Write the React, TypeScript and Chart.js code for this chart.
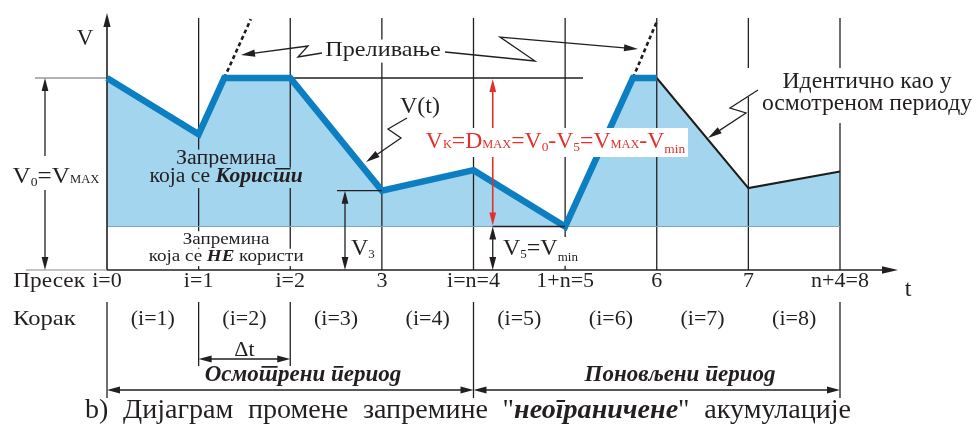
import React, { useEffect, useRef } from 'react';
import { Chart, registerables } from 'chart.js';

Chart.register(...registerables);

// ---------- data ----------
const sectionTicks = [0, 1, 2, 3, 4, 5, 6, 7, 8];
const sectionLabels = ['i=0', 'i=1', 'i=2', '3', 'i=n=4', '1+n=5', '6', '7', 'n+4=8'];
const stepLabels = ['(i=1)', '(i=2)', '(i=3)', '(i=4)', '(i=5)', '(i=6)', '(i=7)', '(i=8)'];
const observedTime = [0, 1, 1.28, 2, 3, 4, 5, 5.74, 6];
const observedVolume = [7.5, 5.3, 7.5, 7.5, 3.1, 3.9, 1.7, 7.5, 7.5];
const repeatedTime = [6, 7, 8];
const repeatedVolume = [7.5, 3.2, 3.85];
const overflowATime = [1.28, 1.57];
const overflowAVolume = [7.5, 9.8];
const overflowBTime = [5.74, 6.0];
const overflowBVolume = [7.5, 9.7];
const V_MAX = 7.5;
const V_MIN = 1.7;
const V_3 = 3.1;
const DMAX_AT = 4.21;

// ---------- styles ----------
const FAMILY = '"Liberation Serif", "Times New Roman", serif';
const INK = '#231f20';
const RED = '#e2312b';
const BLUE = '#0b7fc2';
const FILL = '#a4d5ee';
const FILL_INDEX = 4;

type Seg = { t: string; size: number; style?: string; dy?: number };
type Opt = { align?: 'left' | 'center' | 'right'; color?: string; bg?: string; padX?: number; padT?: number; padB?: number; k?: number };
const S = (t: string, size: number, style = '', dy = 0): Seg => ({ t, size, style, dy });
const fontOf = (s: Seg) => `${s.style || ''} ${s.size}px ${FAMILY}`;

function segsWidth(ctx: CanvasRenderingContext2D, segs: Seg[], k = 1) {
  let w = 0;
  for (const s of segs) {
    ctx.font = fontOf(s);
    w += ctx.measureText(s.t).width;
  }
  return w * k;
}

function drawSegs(ctx: CanvasRenderingContext2D, segs: Seg[], x: number, y: number, o: Opt = {}) {
  const { align = 'left', color = INK, bg, padX = 3, padT = 0.75, padB = 0.3, k = 1 } = o;
  const w = segsWidth(ctx, segs, k);
  const sx = align === 'center' ? x - w / 2 : align === 'right' ? x - w : x;
  const maxSize = Math.max(...segs.map((s) => s.size));
  ctx.save();
  if (bg) {
    ctx.fillStyle = bg;
    ctx.fillRect(sx - padX, y - maxSize * padT, w + padX * 2, maxSize * (padT + padB));
  }
  ctx.translate(sx, y);
  ctx.scale(k, 1);
  ctx.fillStyle = color;
  ctx.textAlign = 'left';
  ctx.textBaseline = 'alphabetic';
  let cx = 0;
  for (const s of segs) {
    ctx.font = fontOf(s);
    ctx.fillText(s.t, cx, s.dy || 0);
    cx += ctx.measureText(s.t).width;
  }
  ctx.restore();
  return w;
}

function txt(ctx: CanvasRenderingContext2D, t: string, x: number, y: number, size: number, style = '', o: Opt = {}) {
  return drawSegs(ctx, [S(t, size, style)], x, y, o);
}

function ln(ctx: CanvasRenderingContext2D, x1: number, y1: number, x2: number, y2: number, w = 1.3, c = INK) {
  ctx.save();
  ctx.beginPath();
  ctx.strokeStyle = c;
  ctx.lineWidth = w;
  ctx.moveTo(x1, y1);
  ctx.lineTo(x2, y2);
  ctx.stroke();
  ctx.restore();
}

function poly(ctx: CanvasRenderingContext2D, pts: number[][], w = 1.3, c = INK) {
  ctx.save();
  ctx.beginPath();
  ctx.strokeStyle = c;
  ctx.lineWidth = w;
  ctx.lineJoin = 'miter';
  pts.forEach((p, i) => (i ? ctx.lineTo(p[0], p[1]) : ctx.moveTo(p[0], p[1])));
  ctx.stroke();
  ctx.restore();
}

function head(ctx: CanvasRenderingContext2D, x: number, y: number, ang: number, c = INK, len = 13, half = 3.4) {
  ctx.save();
  ctx.fillStyle = c;
  ctx.beginPath();
  const bx = x - Math.cos(ang) * len;
  const by = y - Math.sin(ang) * len;
  ctx.moveTo(x, y);
  ctx.lineTo(bx + Math.sin(ang) * half, by - Math.cos(ang) * half);
  ctx.lineTo(bx - Math.sin(ang) * half, by + Math.cos(ang) * half);
  ctx.closePath();
  ctx.fill();
  ctx.restore();
}

function arrow(ctx: CanvasRenderingContext2D, x1: number, y1: number, x2: number, y2: number, start = false, end = true, c = INK, w = 1.3) {
  const a = Math.atan2(y2 - y1, x2 - x1);
  const sx = start ? x1 + Math.cos(a) * 8 : x1;
  const sy = start ? y1 + Math.sin(a) * 8 : y1;
  const ex = end ? x2 - Math.cos(a) * 8 : x2;
  const ey = end ? y2 - Math.sin(a) * 8 : y2;
  ln(ctx, sx, sy, ex, ey, w, c);
  if (end) head(ctx, x2, y2, a, c);
  if (start) head(ctx, x1, y1, a + Math.PI, c);
}

function zigArrow(ctx: CanvasRenderingContext2D, pts: number[][]) {
  const n = pts.length;
  const a = Math.atan2(pts[n - 1][1] - pts[n - 2][1], pts[n - 1][0] - pts[n - 2][0]);
  const p = pts.slice(0, n - 1).concat([[pts[n - 1][0] - Math.cos(a) * 8, pts[n - 1][1] - Math.sin(a) * 8]]);
  poly(ctx, p, 1.3);
  head(ctx, pts[n - 1][0], pts[n - 1][1], a, INK, 14, 3.6);
}

function rect(ctx: CanvasRenderingContext2D, x: number, y: number, w: number, h: number, c = '#fff') {
  ctx.save();
  ctx.fillStyle = c;
  ctx.fillRect(x, y, w, h);
  ctx.restore();
}

const diagramPlugin = {
  id: 'diagram',
  afterDatasetDraw(chart: any, args: any) {
    if (args.index !== FILL_INDEX) return;
    const ctx: CanvasRenderingContext2D = chart.ctx;
    const X = (t: number) => chart.scales.x.getPixelForValue(t);
    const Y = (v: number) => chart.scales.y.getPixelForValue(v);
    const y0 = Y(0);

    // section verticals
    sectionTicks.forEach((t) => {
      if (t !== 0) ln(ctx, X(t), 18, X(t), y0, 1.3);
    });
    // boundary of unused volume
    ln(ctx, X(0), Y(V_MIN), X(8), Y(V_MIN), 1, '#7fa6b8');
    // V max reference lines
    ln(ctx, 35, Y(V_MAX), X(0), Y(V_MAX), 1, '#666');
    ln(ctx, X(2), Y(V_MAX), 583, Y(V_MAX), 1.3);
    // axes
    ln(ctx, X(0), y0, X(0), 24, 1.6);
    head(ctx, X(0), 13, -Math.PI / 2, INK, 14, 3.6);
    ln(ctx, 26, y0, X(0), y0, 1, '#888');
    ln(ctx, X(0), y0, 888, y0, 1.6);
    head(ctx, 898, y0, 0, INK, 16, 3.8);

    // used / unused volume labels
    const c = X(1.3);
    drawSegs(ctx, [S('Запремина', 20)], c, 164, { align: 'center', bg: FILL, k: 1.1, padT: 0.72, padB: 0.22 });
    drawSegs(ctx, [S('која се ', 20), S('Користи', 20, 'italic bold')], c, 182, { align: 'center', bg: FILL, k: 1.08, padT: 0.72, padB: 0.3 });
    drawSegs(ctx, [S('Запремина', 17)], c, 244, { align: 'center', bg: '#fff', k: 1.12, padT: 0.75, padB: 0.22 });
    drawSegs(ctx, [S('која се ', 17), S('НЕ', 17, 'italic bold'), S(' користи', 17)], c, 261, { align: 'center', bg: '#fff', k: 1.12, padT: 0.72, padB: 0.3 });
  },
  afterDatasetsDraw(chart: any) {
    const ctx: CanvasRenderingContext2D = chart.ctx;
    const X = (t: number) => chart.scales.x.getPixelForValue(t);
    const Y = (v: number) => chart.scales.y.getPixelForValue(v);
    const y0 = Y(0);

    // axis names
    txt(ctx, 'V', 85, 45, 23, '', { align: 'center' });
    txt(ctx, 't', 908, 296, 24, '', { align: 'center' });

    // overflow label
    txt(ctx, 'Преливање', 383, 56, 22, '', { align: 'center', bg: '#fff', k: 1.1 });
    zigArrow(ctx, [[322, 53], [298, 57], [308, 46], [241, 55]]);
    zigArrow(ctx, [[445, 52], [535, 61], [500, 37], [638, 49]]);

    // V(t)
    txt(ctx, 'V(t)', 400, 113, 24);
    zigArrow(ctx, [[407, 118], [388, 129], [401, 138], [366, 162]]);

    // red D max arrow
    arrow(ctx, X(DMAX_AT), Y(V_MIN) - 1, X(DMAX_AT), Y(V_MAX) + 1, true, true, RED, 1.6);
    const redSegs = [
      S('V', 23), S('K', 12), S('=', 23), S('D', 23), S('MAX', 12), S('=', 23),
      S('V', 23), S('0', 13, '', 3), S('-', 23), S('V', 23), S('5', 13, '', 3), S('=', 23),
      S('V', 23), S('MAX', 12), S('-', 23), S('V', 23), S('min', 13, '', 5),
    ];
    rect(ctx, 423, 128, 265, 29);
    drawSegs(ctx, redSegs, 555.5, 148, { align: 'center', color: RED, k: 1.03 });

    // V3
    ln(ctx, 337, Y(V_3), X(3), Y(V_3), 1.3);
    arrow(ctx, 345, Y(V_3), 345, y0, true, true);
    drawSegs(ctx, [S('V', 24), S('3', 13, '', 3)], 351, 255);

    // V5 = Vmin
    ln(ctx, X(DMAX_AT), Y(V_MIN), X(5), Y(V_MIN), 1.3);
    arrow(ctx, X(DMAX_AT), Y(V_MIN), X(DMAX_AT), y0, true, true);
    drawSegs(ctx, [S('V', 24), S('5', 13, '', 3), S('=V', 24), S('min', 13, '', 6)], 503, 255, { bg: '#fff', padX: 2, padT: 0.75, padB: 0.45 });

    // V0 = VMAX
    arrow(ctx, 45, Y(V_MAX), 45, y0, true, true);
    rect(ctx, 12, 156, 92, 34);
    drawSegs(ctx, [S('V', 24), S('0', 13, '', 3), S('=', 24), S('V', 24), S('MAX', 12)], 56, 183, { align: 'center', k: 1.05 });

    // identical label
    rect(ctx, 745, 68, 231, 29);
    rect(ctx, 757, 97, 219, 26);
    txt(ctx, 'Идентично као у', 867, 88, 23, '', { align: 'center', k: 1.03 });
    txt(ctx, 'осмотреном периоду', 867, 110, 23, '', { align: 'center', k: 1.03 });
    zigArrow(ctx, [[758, 90], [730, 108], [746, 113], [708, 138]]);

    // section labels
    txt(ctx, 'Пресек', 85, 287, 22, '', { align: 'right', k: 1.06 });
    sectionTicks.forEach((t, i) => txt(ctx, sectionLabels[i], X(t), 287, 22, '', { align: 'center' }));

    // step labels
    txt(ctx, 'Корак', 13, 325, 22, '', { k: 1.12 });
    stepLabels.forEach((l, i) => txt(ctx, l, X(i + 0.5), 325, 22, '', { align: 'center' }));

    // lower dimension lines
    [0, 4, 8].forEach((t) => ln(ctx, X(t), 302, X(t), 398, 1.3));
    [1, 2].forEach((t) => ln(ctx, X(t), 302, X(t), 366, 1.3));
    arrow(ctx, X(1), 359, X(2), 359, true, true);
    txt(ctx, 'Δt', X(1.5), 356, 22, '', { align: 'center' });
    arrow(ctx, X(0), 390, X(4), 390, true, true);
    arrow(ctx, X(4), 390, X(8), 390, true, true);
    txt(ctx, 'Осмотрени период', 303, 381, 23, 'italic bold', { align: 'center' });
    txt(ctx, 'Поновљени период', 680, 381, 23, 'italic bold', { align: 'center' });

    // caption, justified
    const K = 1.04;
    const words: Seg[][] = [
      [S('b)', 27)],
      [S('Дијаграм', 27)],
      [S('промене', 27)],
      [S('запремине', 27)],
      [S('"', 27), S('неограничене', 27, 'italic bold'), S('"', 27)],
      [S('акумулације', 27)],
    ];
    const widths = words.map((w) => segsWidth(ctx, w, K));
    const total = widths.reduce((a, b) => a + b, 0);
    const gap = (851 - 85 - total) / (words.length - 1);
    let cx = 85;
    words.forEach((w, i) => {
      drawSegs(ctx, w, cx, 418, { k: K });
      cx += widths[i] + gap;
    });
  },
};

export default function App() {
  const ref = useRef<HTMLCanvasElement>(null);
  useEffect(() => {
    if (!ref.current) return;
    document.documentElement.lang = 'sr';
    const pts = (xs: number[], ys: number[]) => xs.map((x, i) => ({ x, y: ys[i] }));
    const fullTime = observedTime.concat(repeatedTime.slice(1));
    const fullVolume = observedVolume.concat(repeatedVolume.slice(1));
    const chart = new Chart(ref.current, {
      type: 'line',
      data: {
        datasets: [
          { label: 'V(t)', data: pts(observedTime, observedVolume), borderColor: BLUE, borderWidth: 6.5, pointRadius: 0, fill: false, borderJoinStyle: 'miter', borderCapStyle: 'butt', clip: false, order: 1 } as any,
          { label: 'repeated', data: pts(repeatedTime, repeatedVolume), borderColor: '#1d1d1b', borderWidth: 2, pointRadius: 0, fill: false, clip: false, order: 2 } as any,
          { label: 'overflow A', data: pts(overflowATime, overflowAVolume), borderColor: '#1d1d1b', borderWidth: 2.6, borderDash: [4, 3], pointRadius: 0, fill: false, clip: false, order: 3 } as any,
          { label: 'overflow B', data: pts(overflowBTime, overflowBVolume), borderColor: '#1d1d1b', borderWidth: 2.6, borderDash: [4, 3], pointRadius: 0, fill: false, clip: false, order: 3 } as any,
          { label: 'used volume', data: pts(fullTime, fullVolume), borderColor: 'rgba(0,0,0,0)', borderWidth: 0, backgroundColor: FILL, pointRadius: 0, fill: { value: V_MIN }, order: 10 } as any,
        ],
      },
      options: {
        responsive: false,
        animation: false,
        devicePixelRatio: 1,
        events: [],
        layout: { padding: { left: 107, right: 136, top: 14, bottom: 158 } },
        scales: {
          x: { type: 'linear', min: 0, max: 8, display: false },
          y: { type: 'linear', min: 0, max: 10, display: false },
        },
        plugins: { legend: { display: false }, tooltip: { enabled: false } },
      },
      plugins: [diagramPlugin as any],
    });
    return () => chart.destroy();
  }, []);
  return (
    <div style={{ position: 'absolute', left: 0, top: 0, width: 976, height: 428, background: '#fff' }}>
      <canvas ref={ref} width={976} height={428} lang="sr" style={{ display: 'block' }} />
    </div>
  );
}
